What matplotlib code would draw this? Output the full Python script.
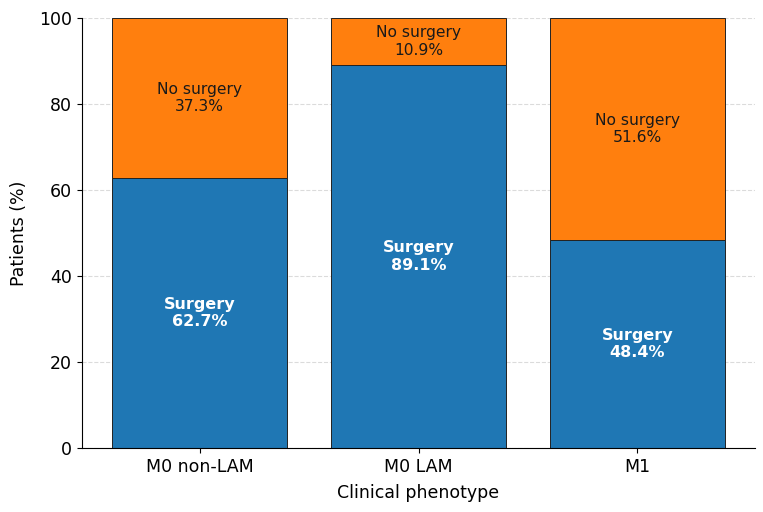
import matplotlib
matplotlib.use("Agg")
import matplotlib.pyplot as plt
import numpy as np

categories = ["M0 non-LAM", "M0 LAM", "M1"]
surgery = [62.7, 89.1, 48.4]
no_surgery = [37.3, 10.9, 51.6]

fig, ax = plt.subplots(figsize=(7.63, 5.12), dpi=100)
x = np.arange(len(categories))
b1 = ax.bar(x, surgery, 0.8, color="#1f77b4", edgecolor="#222222", linewidth=0.7, zorder=2)
b2 = ax.bar(x, no_surgery, 0.8, bottom=surgery, color="#ff7f0e", edgecolor="#222222", linewidth=0.7, zorder=2)

for i in range(len(categories)):
    ax.text(x[i], surgery[i] / 2, f"Surgery\n{surgery[i]:.1f}%", ha="center", va="center",
            color="white", fontweight="bold", fontsize=11.5, zorder=3)
    ax.text(x[i], surgery[i] + no_surgery[i] / 2, f"No surgery\n{no_surgery[i]:.1f}%", ha="center",
            va="center", color="#1a1a1a", fontsize=11.2, zorder=3)

ax.set_xticks(x)
ax.set_xticklabels(categories, fontsize=12.5)
ax.set_ylim(0, 100)
ax.tick_params(axis="y", labelsize=12.5)
ax.set_ylabel("Patients (%)", fontsize=12.5, labelpad=8)
ax.set_xlabel("Clinical phenotype", fontsize=12.5, labelpad=6)
ax.yaxis.grid(True, linestyle="--", color="#cccccc", alpha=0.7, zorder=0)
ax.set_axisbelow(True)
ax.spines["top"].set_visible(False)
ax.spines["right"].set_visible(False)

fig.subplots_adjust(left=0.107, right=0.99, top=0.965, bottom=0.125)
fig.savefig("out.png", dpi=100)
